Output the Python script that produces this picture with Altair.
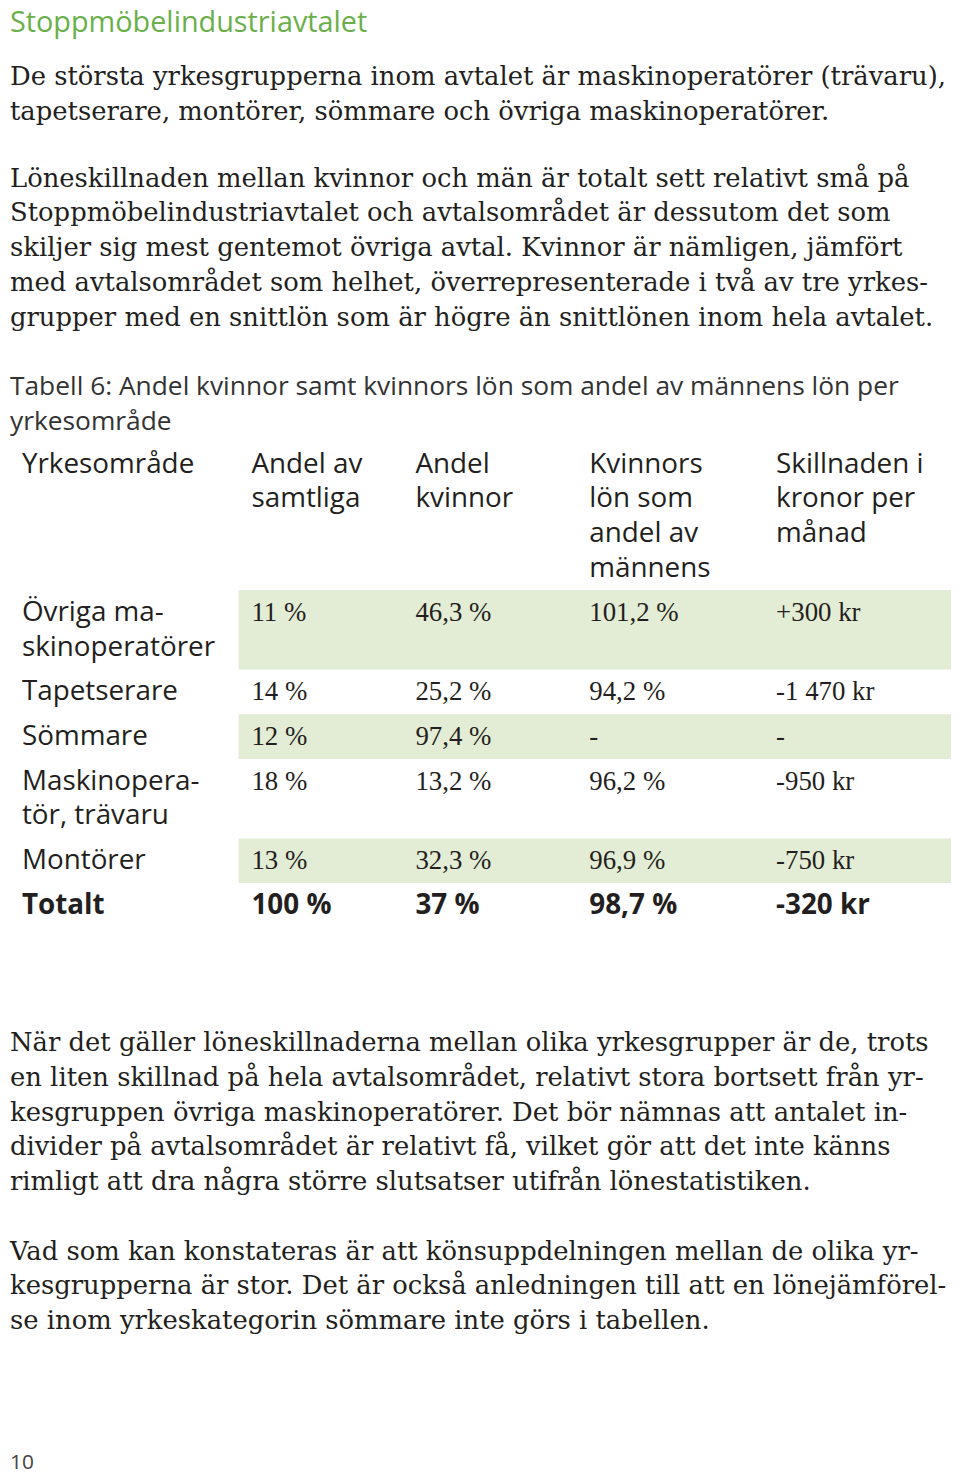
import altair as alt
import pandas as pd

# ---------------- content ----------------
title = "Stoppmöbelindustriavtalet"
para1 = [
    "De största yrkesgrupperna inom avtalet är maskinoperatörer (trävaru),",
    "tapetserare, montörer, sömmare och övriga maskinoperatörer.",
]
para2 = [
    "Löneskillnaden mellan kvinnor och män är totalt sett relativt små på",
    "Stoppmöbelindustriavtalet och avtalsområdet är dessutom det som",
    "skiljer sig mest gentemot övriga avtal. Kvinnor är nämligen, jämfört",
    "med avtalsområdet som helhet, överrepresenterade i två av tre yrkes-",
    "grupper med en snittlön som är högre än snittlönen inom hela avtalet.",
]
caption = [
    "Tabell 6: Andel kvinnor samt kvinnors lön som andel av männens lön per",
    "yrkesområde",
]
headers = [
    ["Yrkesområde"],
    ["Andel av", "samtliga"],
    ["Andel", "kvinnor"],
    ["Kvinnors", "lön som", "andel av", "männens"],
    ["Skillnaden i", "kronor per", "månad"],
]
occupations = [
    ["Övriga ma-", "skinoperatörer"],
    ["Tapetserare"],
    ["Sömmare"],
    ["Maskinopera-", "tör, trävaru"],
    ["Montörer"],
]
andel_samtliga = ["11 %", "14 %", "12 %", "18 %", "13 %"]
andel_kvinnor = ["46,3 %", "25,2 %", "97,4 %", "13,2 %", "32,3 %"]
lon_andel = ["101,2 %", "94,2 %", "-", "96,2 %", "96,9 %"]
skillnad = ["+300 kr", "-1 470 kr", "-", "-950 kr", "-750 kr"]
shaded = [True, False, True, False, True]
total_row = ["Totalt", "100 %", "37 %", "98,7 %", "-320 kr"]
para3 = [
    "När det gäller löneskillnaderna mellan olika yrkesgrupper är de, trots",
    "en liten skillnad på hela avtalsområdet, relativt stora bortsett från yr-",
    "kesgruppen övriga maskinoperatörer. Det bör nämnas att antalet in-",
    "divider på avtalsområdet är relativt få, vilket gör att det inte känns",
    "rimligt att dra några större slutsatser utifrån lönestatistiken.",
]
para4 = [
    "Vad som kan konstateras är att könsuppdelningen mellan de olika yr-",
    "kesgrupperna är stor. Det är också anledningen till att en lönejämförel-",
    "se inom yrkeskategorin sömmare inte görs i tabellen.",
]
page_number = "10"

# ---------------- layout (page pixel coordinates, text baselines) ----------------
W, H = 950, 1467
LEFT = 10
LH = 35
TITLE_Y = 27
PARA1_Y = 81
PARA2_Y = 183
CAPTION_Y = 393
HEADER_Y = 471
TABLE_TOP = 589
ROW_BASE = 31
COL_X = [22, 253, 418, 593, 781]
SHADE_X0, SHADE_X1 = 240, 957
PARA3_Y = 1053
PARA4_Y = 1263
PAGE_Y = 1474

GREEN = "#6aaf4a"
SHADE = "#e3edd5"
INK = "#231f20"

xs = alt.Scale(domain=[8, 8 + W], nice=False, zero=False)
ys = alt.Scale(domain=[8, 8 + H], nice=False, zero=False, reverse=True)


def lines_df(lines, x, y0):
    return pd.DataFrame({"t": lines, "x": [x] * len(lines),
                         "y": [y0 + i * LH for i in range(len(lines))]})


def text_layer(df, font, size, color=INK, weight="normal"):
    return alt.Chart(df).mark_text(
        align="left", baseline="alphabetic", font=font, fontSize=size,
        fontWeight=weight, color=color,
    ).encode(
        x=alt.X("x:Q", scale=xs, axis=None),
        y=alt.Y("y:Q", scale=ys, axis=None),
        text="t:N",
    )


# body paragraphs
body = pd.concat([
    lines_df(para1, LEFT, PARA1_Y),
    lines_df(para2, LEFT, PARA2_Y),
    lines_df(para3, LEFT, PARA3_Y),
    lines_df(para4, LEFT, PARA4_Y),
])

# table header
hdr = pd.concat([lines_df(h, COL_X[i], HEADER_Y) for i, h in enumerate(headers)])

# table rows
label_parts, value_parts, shade_rows = [], [], []
top = TABLE_TOP
for i, occ in enumerate(occupations):
    h = len(occ) * LH + 10
    by = top + ROW_BASE
    label_parts.append(lines_df(occ, COL_X[0], by))
    vals = [andel_samtliga[i], andel_kvinnor[i], lon_andel[i], skillnad[i]]
    value_parts.append(pd.DataFrame({"t": vals, "x": COL_X[1:], "y": [by] * 4}))
    if shaded[i]:
        shade_rows.append({"x": SHADE_X0, "x2": SHADE_X1, "y": top, "y2": top + h})
    top += h
labels = pd.concat(label_parts)
values = pd.concat(value_parts)
totals = pd.DataFrame({"t": total_row, "x": COL_X, "y": [top + ROW_BASE] * 5})
shades = pd.DataFrame(shade_rows)

shade_layer = alt.Chart(shades).mark_rect(color=SHADE).encode(
    x=alt.X("x:Q", scale=xs, axis=None), x2="x2:Q",
    y=alt.Y("y:Q", scale=ys, axis=None), y2="y2:Q",
)

SERIF = "DejaVu Serif"
NUM = "Liberation Serif"
SANS = "Open Sans"

chart = alt.layer(
    shade_layer,
    text_layer(pd.DataFrame({"t": [title], "x": [LEFT], "y": [TITLE_Y]}), SANS, 29, GREEN),
    text_layer(body, SERIF, 26),
    text_layer(lines_df(caption, LEFT, CAPTION_Y), SANS, 26.5, "#333333"),
    text_layer(hdr, SANS, 28),
    text_layer(labels, SANS, 28),
    text_layer(values, NUM, 27),
    text_layer(totals, SANS, 28, weight="bold"),
    text_layer(pd.DataFrame({"t": [page_number], "x": [LEFT], "y": [PAGE_Y]}), SANS, 21, "#444444"),
).properties(
    width=W, height=H, padding=0, autosize=alt.AutoSizeParams(type="none"),
    background="white",
).configure_view(stroke=None)

chart.save("out.html", embed_options={"renderer": "svg", "actions": False})
